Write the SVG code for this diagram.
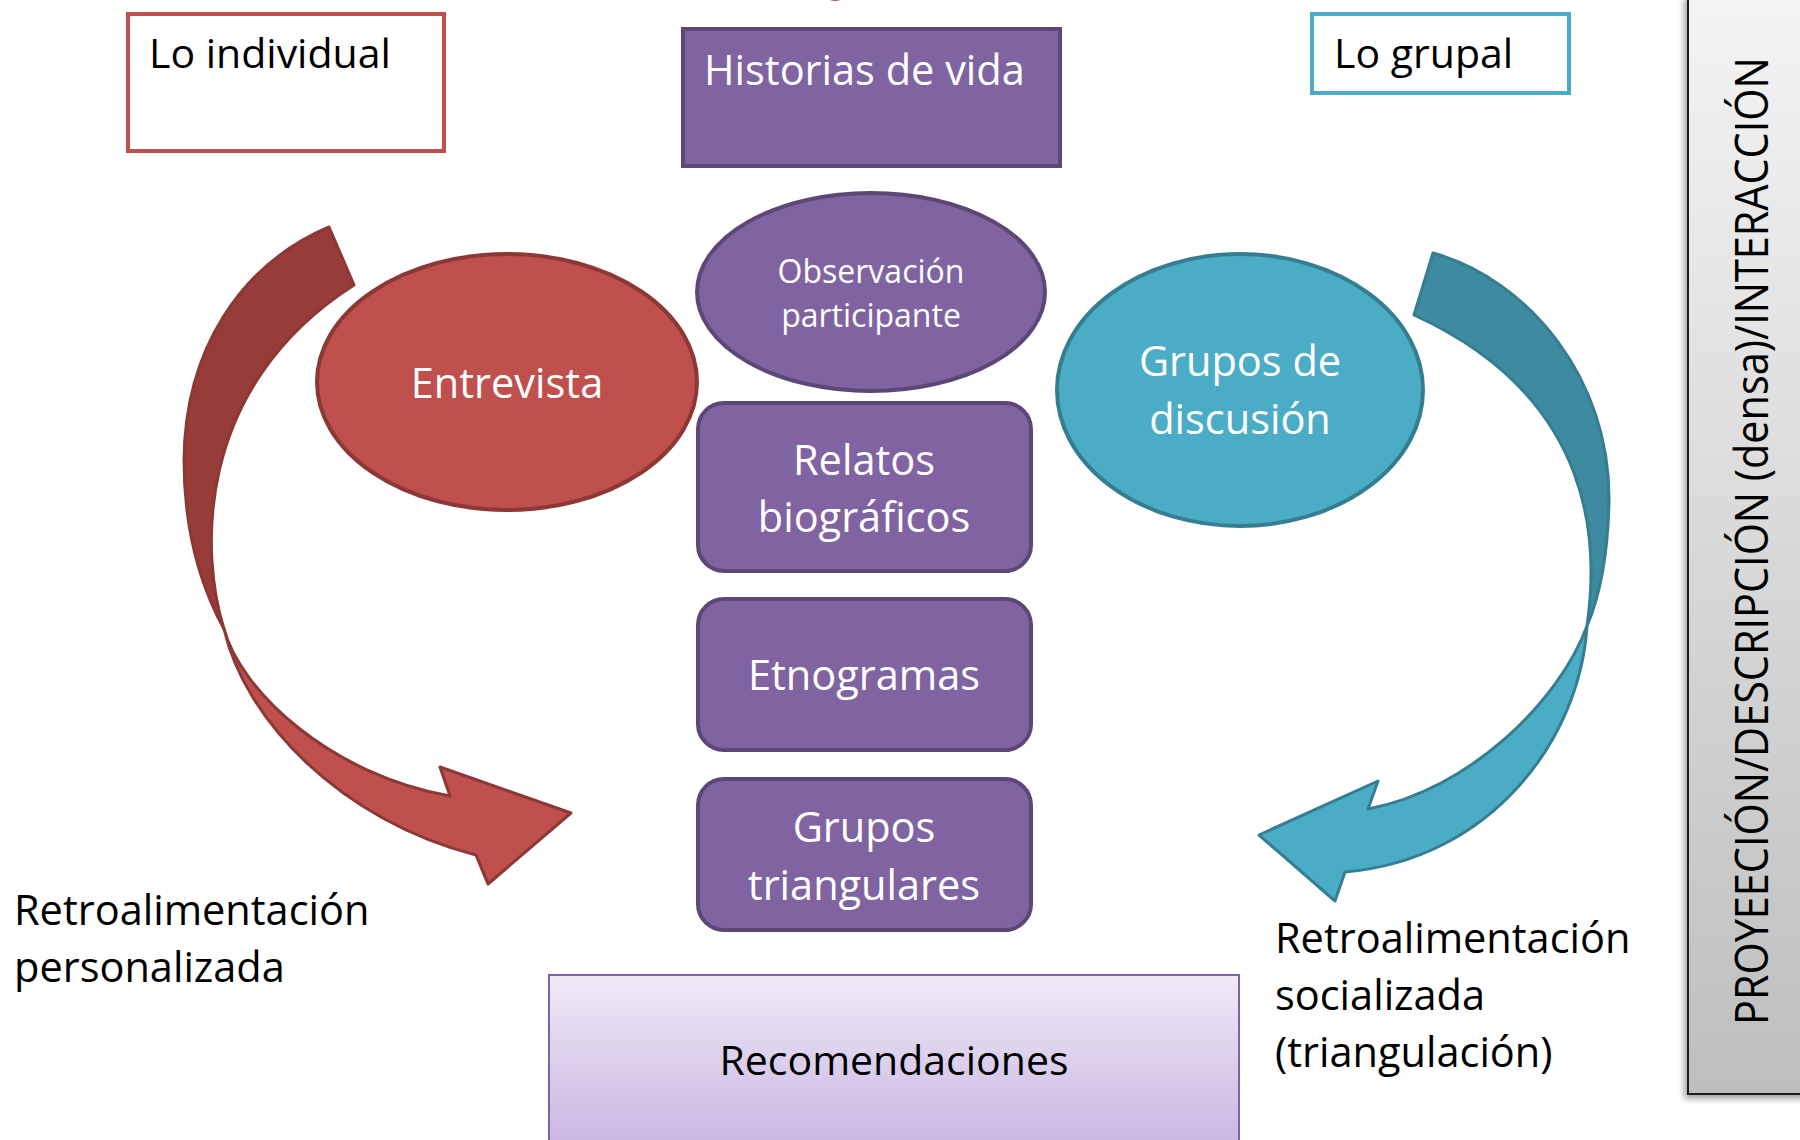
<svg xmlns="http://www.w3.org/2000/svg" width="1800" height="1140" viewBox="0 0 1800 1140">
<defs>
<linearGradient id="gRec" x1="0" y1="0" x2="0" y2="1">
<stop offset="0" stop-color="#EFEAF7"/>
<stop offset="1" stop-color="#C7B3E1"/>
</linearGradient>
<linearGradient id="gBar" x1="0" y1="0" x2="0" y2="1">
<stop offset="0" stop-color="#F4F4F4"/>
<stop offset="1" stop-color="#BEBEBE"/>
</linearGradient>
<filter id="sh" x="-20%" y="-5%" width="140%" height="110%">
<feDropShadow dx="-3" dy="4" stdDeviation="3" flood-color="#000" flood-opacity="0.35"/>
</filter>
</defs>
<style>
text{font-family:"Open Sans","Noto Sans","DejaVu Sans",sans-serif;}
.w{fill:#FFFFFF;font-size:41.5px;text-anchor:middle;}
.b{fill:#000000;font-size:41px;}
.pbox{fill:#8064A2;stroke:#5C4776;stroke-width:4;}
.redL{fill:#C0504D;stroke:#8C3836;stroke-width:3;stroke-linejoin:round;}
.redD{fill:#983C3A;stroke:#8C3836;stroke-width:3;stroke-linejoin:round;}
.tealL{fill:#4BACC6;stroke:#357E92;stroke-width:3;stroke-linejoin:round;}
.tealD{fill:#3E8AA0;stroke:#357E92;stroke-width:3;stroke-linejoin:round;}
</style>
<rect width="1800" height="1140" fill="#FFFFFF"/>

<ellipse cx="835" cy="-9" rx="12" ry="10" fill="#C0504D"/>

<g id="connectors">
<g id="arrow-left">
<path class="redD" d="M329,227 C240,265 185,350 184,460 C184,530 200,585 224,629 C202,560 190,390 354,285 Z"/>
<path class="redL" d="M224,629 C245,720 340,820 476,855 L488,884 L571,813 L440,767 L450,796 C330,775 240,690 224,629 Z"/>
</g>
<g id="arrow-right">
<path class="tealD" d="M1433,253 C1530,280 1610,380 1609,500 C1608,560 1598,600 1587,626 C1598,550 1600,400 1414,315 Z"/>
<path class="tealL" d="M1587,626 C1580,740 1490,860 1345,872 L1335,901 L1259,835 L1378,781 L1368,809 C1470,790 1560,700 1587,626 Z"/>
</g>
</g>

<g id="lo-individual">
<rect x="128" y="14" width="316" height="137" fill="#FFFFFF" stroke="#C0504D" stroke-width="4"/>
<text class="b" x="149" y="68">Lo individual</text>
</g>

<g id="lo-grupal">
<rect x="1312" y="14" width="257" height="79" fill="#FFFFFF" stroke="#4BACC6" stroke-width="4"/>
<text class="b" x="1334" y="68">Lo grupal</text>
</g>

<g id="historias">
<rect class="pbox" x="683" y="29" width="377" height="137"/>
<text class="w" x="704" y="85" style="text-anchor:start">Historias de vida</text>
</g>

<g id="observacion">
<ellipse class="pbox" cx="871" cy="292" rx="174" ry="99"/>
<text class="w" x="871" y="283" style="font-size:32px">Observación</text>
<text class="w" x="871" y="327" style="font-size:32px">participante</text>
</g>

<g id="entrevista">
<ellipse cx="507" cy="382" rx="190" ry="128" fill="#C0504D" stroke="#8C3836" stroke-width="4"/>
<text class="w" x="507" y="398">Entrevista</text>
</g>

<g id="grupos-discusion">
<ellipse cx="1240" cy="390" rx="183" ry="136" fill="#4BACC6" stroke="#357E92" stroke-width="4"/>
<text class="w" x="1240" y="376">Grupos de</text>
<text class="w" x="1240" y="434">discusión</text>
</g>

<g id="relatos">
<rect class="pbox" x="698" y="403" width="333" height="168" rx="26"/>
<text class="w" x="864" y="475">Relatos</text>
<text class="w" x="864" y="532">biográficos</text>
</g>

<g id="etnogramas">
<rect class="pbox" x="698" y="599" width="333" height="151" rx="26"/>
<text class="w" x="864" y="690">Etnogramas</text>
</g>

<g id="grupos-triangulares">
<rect class="pbox" x="698" y="779" width="333" height="151" rx="26"/>
<text class="w" x="864" y="842">Grupos</text>
<text class="w" x="864" y="900">triangulares</text>
</g>

<g id="recomendaciones">
<rect x="549" y="975" width="690" height="180" fill="url(#gRec)" stroke="#8064A2" stroke-width="2"/>
<text class="b" x="894" y="1075" style="text-anchor:middle">Recomendaciones</text>
</g>

<g id="retro-personalizada">
<text class="b" x="14" y="925" style="font-size:41.5px">Retroalimentación</text>
<text class="b" x="14" y="982" style="font-size:41.5px">personalizada</text>
</g>

<g id="retro-socializada">
<text class="b" x="1275" y="953" style="font-size:41.5px">Retroalimentación</text>
<text class="b" x="1275" y="1010" style="font-size:41.5px">socializada</text>
<text class="b" x="1275" y="1067" style="font-size:41.5px">(triangulación)</text>
</g>

<g id="proyeccion-bar">
<rect x="1688" y="-4" width="130" height="1098" fill="url(#gBar)" stroke="#1A1A1A" stroke-width="2" filter="url(#sh)"/>
<text transform="translate(1768,1025) rotate(-90) scale(0.82,1)" x="0" y="0" style="font-size:45px;fill:#000" textLength="1180" lengthAdjust="spacingAndGlyphs">PROYEECIÓN/DESCRIPCIÓN (densa)/INTERACCIÓN</text>
</g>
</svg>
